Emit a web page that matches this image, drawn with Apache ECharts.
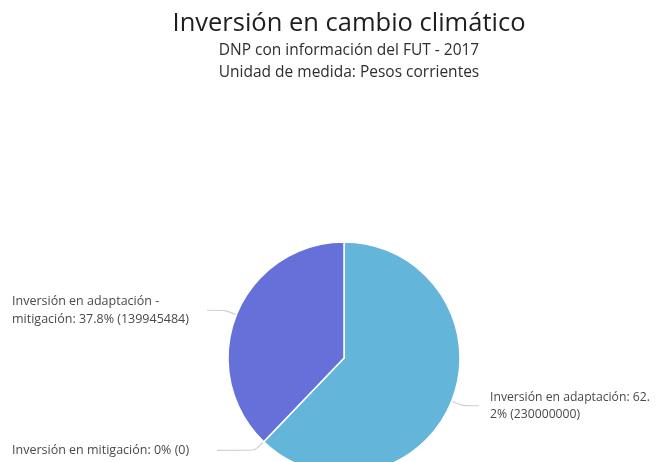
<!DOCTYPE html>
<html><head><meta charset="utf-8">
<script src="https://cdn.jsdelivr.net/npm/echarts@6/dist/echarts.min.js"></script>
<style>html,body{margin:0;padding:0;background:#fff}#c{width:656px;height:462px}</style>
</head><body><div id="c"></div>
<script>
var categories = ['Inversión en adaptación', 'Inversión en mitigación', 'Inversión en adaptación - mitigación'];
var values = [230000000, 0, 139945484];
var labelTexts = ['Inversión en adaptación: 62.\n2% (230000000)', 'Inversión en mitigación: 0% (0)', 'Inversión en adaptación -\nmitigación: 37.8% (139945484)'];
var labelWidths = [154, 200, 190];
var colors = ['#63b5da', '#6670d9', '#6670d9'];

var data = categories.map(function(n, i){ return {name: n, value: values[i], itemStyle: {color: colors[i]}}; });
var chart = echarts.init(document.getElementById('c'));
chart.setOption({
  animation: false,
  title: {
    text: 'Inversión en cambio climático',
    subtext: 'DNP con información del FUT - 2017\nUnidad de medida: Pesos corrientes',
    left: 344, textAlign: 'center', top: 6, itemGap: 3,
    textStyle: {fontFamily: 'Open Sans', fontSize: 25.5, fontWeight: 'normal', color: '#1e1e1e'},
    subtextStyle: {fontFamily: 'Open Sans', fontSize: 15.5, color: '#2e2e2e', lineHeight: 22}
  },
  series: [{
    type: 'pie',
    center: [344, 358],
    radius: 116,
    startAngle: 90,
    clockwise: true,
    minShowLabelAngle: 0,
    avoidLabelOverlap: true,
    data: data,
    itemStyle: {borderColor: '#fff', borderWidth: 1.5},
    label: {
      formatter: function(p){
        return labelTexts[p.dataIndex].split('\n').map(function(s){ return '{t' + p.dataIndex + '|' + s + '}'; }).join('\n');
      },
      rich: {
        t0: {width: labelWidths[0], align: 'left', fontFamily: 'Open Sans', fontSize: 12.2, color: '#4a4a4a', lineHeight: 17},
        t1: {width: labelWidths[1], align: 'left', fontFamily: 'Open Sans', fontSize: 12.5, color: '#4a4a4a', lineHeight: 18},
        t2: {width: labelWidths[2], align: 'left', fontFamily: 'Open Sans', fontSize: 12.5, color: '#4a4a4a', lineHeight: 18}
      },
      alignTo: 'edge', edgeDistance: 12
    },
    labelLine: {length: 12, length2: 12, lineStyle: {color: '#cfcfcf', width: 1.2}, smooth: 0.2}
  }]
});
</script></body></html>
